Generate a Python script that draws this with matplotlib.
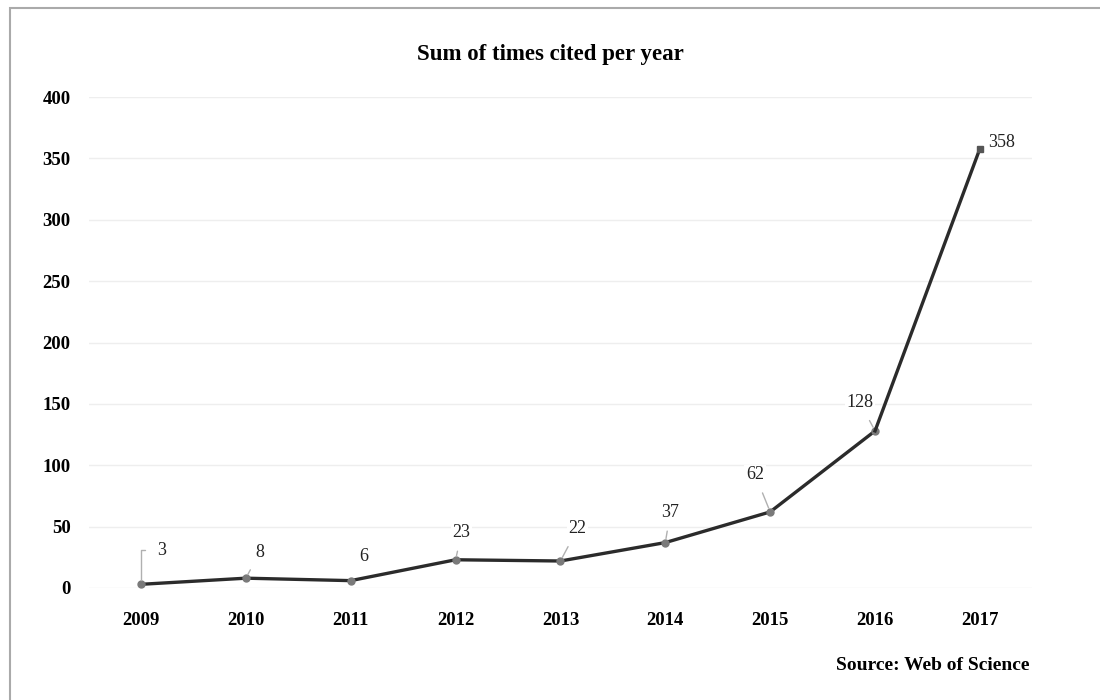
import matplotlib.pyplot as plt
from matplotlib.patches import Rectangle

years = [2009, 2010, 2011, 2012, 2013, 2014, 2015, 2016, 2017]
cites = [3, 8, 6, 23, 22, 37, 62, 128, 358]
# label offsets in pixels (dx, dy) from each point
label_off = [(21, 34), (14, 26), (13, 24), (6, 27), (17, 32), (5, 30), (-15, 37), (-15, 28), (22, 6)]
has_leader = [True, True, False, True, True, True, True, True, False]

plt.rcParams['font.family'] = ['Liberation Serif', 'DejaVu Serif']

fig = plt.figure(figsize=(11, 7), dpi=100)
ax = fig.add_axes([0.0805, 0.16, 0.858, 0.7014])

ax.plot(years[:-1], cites[:-1], color='#2b2b2b', lw=2.4, marker='o', ms=5,
        mfc='#7a7a7a', mec='#7a7a7a', zorder=3)
ax.plot(years[-2:], cites[-2:], color='#2b2b2b', lw=2.4, zorder=3)
ax.plot(years[-1], cites[-1], marker='s', ms=5, color='#555555', zorder=4)

for i, (x, y, (dx, dy), lead) in enumerate(zip(years, cites, label_off, has_leader)):
    arrow = None
    if lead:
        arrow = dict(arrowstyle='-', color='#b0b0b0', lw=1, shrinkA=6, shrinkB=3)
        if i == 0:
            arrow['connectionstyle'] = 'angle,angleA=0,angleB=90,rad=0'
            arrow['shrinkA'] = 8
    ax.annotate(str(y), xy=(x, y), xytext=(dx, dy), textcoords='offset pixels',
                ha='center', va='center', fontsize=13, color='#222222',
                bbox=dict(boxstyle='square,pad=0.1', fc='white', ec='none'),
                arrowprops=arrow)

ax.set_xlim(2008.5, 2017.5)
ax.set_ylim(0, 400)
ax.set_xticks(years)
ax.set_yticks(range(0, 401, 50))
ax.set_xticklabels([str(y) for y in years], fontsize=13.5, fontweight='bold')
ax.set_yticklabels([str(v) for v in range(0, 401, 50)], fontsize=13.5, fontweight='bold')
ax.tick_params(length=0)
ax.tick_params(axis='x', pad=17)
ax.tick_params(axis='y', pad=13)
ax.grid(axis='y', color='#eeeeee', lw=1)
ax.set_axisbelow(True)
for s in ax.spines.values():
    s.set_visible(False)

fig.text(0.5, 0.922, 'Sum of times cited per year', ha='center', va='center',
         fontsize=16.5, fontweight='bold')
fig.text(0.936, 0.049, 'Source: Web of Science', ha='right', va='center',
         fontsize=14, fontweight='bold')

fig.patches.append(Rectangle((10 / 1100, -0.01), 1.1, 1 - 8 / 700 + 0.01,
                             transform=fig.transFigure, fill=False,
                             edgecolor='#aaaaaa', lw=1.5))

fig.savefig('out.png', dpi=100)
